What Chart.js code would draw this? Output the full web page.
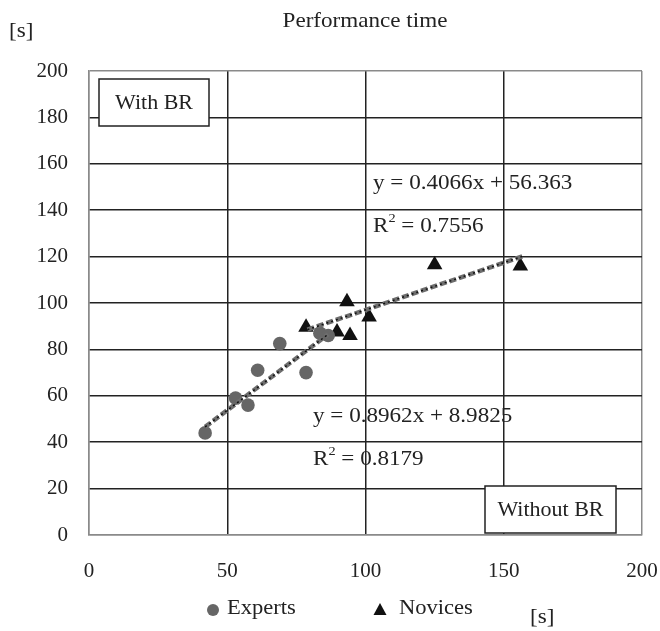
<!DOCTYPE html>
<html>
<head>
<meta charset="utf-8">
<script src="https://cdn.jsdelivr.net/npm/chart.js@4/dist/chart.umd.min.js"></script>
<style>
  html, body { margin: 0; padding: 0; background: #fff; }
  #wrap { width: 660px; height: 631px; }
</style>
</head>
<body>
<div id="wrap"><canvas id="myChart"></canvas></div>
<script>
// values
const expertsX = [42, 53, 57.5, 61, 69, 78.5, 83.5, 86.5]
const expertsY = [44, 59, 56, 71, 82.5, 70, 87, 86]
const novicesX = [78.5, 89.7, 93.3, 94.4, 101.3, 125, 156]
const novicesY = [89.5, 87.5, 100.5, 86, 94, 116.5, 116]
// trend line end points (as drawn in the figure)
const expertsTrend = [[42, 46.6], [86.5, 86.5]]
const novicesTrend = [[79, 88.5], [157, 120.2]]
const xTicks = [0, 50, 100, 150, 200]
const yTicks = [0, 20, 40, 60, 80, 100, 120, 140, 160, 180, 200]

const SERIF = '"Liberation Serif", "DejaVu Serif", serif'
const STRETCH = 1.1 // the figure's lettering is a bit wide

const toPoints = (xs, ys) => xs.map((x, i) => ({ x: x, y: ys[i] }))
const trendPoints = arr => arr.map(p => ({ x: p[0], y: p[1] }))

const gridColor = ctx => {
  const v = ctx.tick && ctx.tick.value
  return (v === 0 || v === 200) ? '#8a8a8a' : '#222'
}

const trendSet = (pts, dash, color, width, order) => ({
  type: 'line',
  data: trendPoints(pts),
  borderColor: color,
  borderWidth: width,
  borderDash: dash,
  pointRadius: 0,
  fill: false,
  tension: 0,
  order: order
})

// texts, boxes and legend
const annotations = {
  id: 'annotations',
  afterDraw(chart) {
    const { ctx, chartArea: a } = chart
    // draws wide text, returns its width
    const text = (str, x, y, size, align) => {
      ctx.save()
      ctx.font = size + 'px ' + SERIF
      ctx.textBaseline = 'middle'
      ctx.fillStyle = '#222'
      const w = ctx.measureText(str).width * STRETCH
      let x0 = x
      if (align === 'center') x0 = x - w / 2
      if (align === 'right') x0 = x - w
      ctx.translate(x0, y)
      ctx.scale(STRETCH, 1)
      ctx.textAlign = 'left'
      ctx.fillText(str, 0, 0)
      ctx.restore()
      return w
    }
    ctx.save()

    text('Performance time', 365, 21, 21, 'center')
    text('[s]', 9, 31, 21)
    text('[s]', 530, 617, 21)

    text('y = 0.4066x + 56.363', 373, 183, 21)
    text('y = 0.8962x + 8.9825', 313, 416, 21)
    const r2 = (x, y, val) => {
      let w = text('R', x, y, 21)
      w += text('2', x + w, y - 7, 13)
      text(' = ' + val, x + w, y, 21)
    }
    r2(373, 226, '0.7556')
    r2(313, 459, '0.8179')

    const box = (x, y, w, h, label) => {
      ctx.fillStyle = '#fff'
      ctx.fillRect(x, y, w, h)
      ctx.strokeStyle = '#222'
      ctx.lineWidth = 1.5
      ctx.strokeRect(x, y, w, h)
      text(label, x + w / 2, y + h / 2 + 1, 20, 'center')
    }
    box(a.left + 10, a.top + 8, 110, 47, 'With BR')
    box(a.right - 157, a.bottom - 49, 131, 47, 'Without BR')

    // legend
    ctx.fillStyle = '#666'
    ctx.beginPath()
    ctx.arc(213, 610, 6, 0, Math.PI * 2)
    ctx.fill()
    ctx.fillStyle = '#111'
    ctx.beginPath()
    ctx.moveTo(380, 603)
    ctx.lineTo(386.5, 615)
    ctx.lineTo(373.5, 615)
    ctx.closePath()
    ctx.fill()
    text('Experts', 227, 609, 20.5)
    text('Novices', 399, 609, 20.5)
    ctx.restore()
  }
}

const canvas = document.querySelector('#myChart')
const myChart = new Chart(canvas.getContext('2d'), {
  type: 'scatter',
  data: {
    datasets: [
      {
        label: 'Experts',
        data: toPoints(expertsX, expertsY),
        pointStyle: 'circle',
        pointRadius: 6.8,
        backgroundColor: '#666',
        borderColor: '#666',
        borderWidth: 0,
        order: 3
      },
      {
        label: 'Novices',
        data: toPoints(novicesX, novicesY),
        pointStyle: 'triangle',
        pointRadius: 9,
        backgroundColor: '#111',
        borderColor: '#111',
        borderWidth: 0,
        order: 3
      },
      trendSet(expertsTrend, [7, 3], '#6e6e6e', 4.5, 2),
      trendSet(novicesTrend, [7, 3], '#6e6e6e', 4.5, 2),
      trendSet(expertsTrend, [2, 3], '#111', 1.5, 1),
      trendSet(novicesTrend, [2, 3], '#111', 1.5, 1)
    ]
  },
  options: {
    responsive: true,
    maintainAspectRatio: false,
    animation: false,
    layout: { padding: { top: 71, right: 18, left: 0, bottom: 0 } },
    plugins: {
      legend: { display: false },
      title: { display: false },
      tooltip: { enabled: false }
    },
    scales: {
      x: {
        type: 'linear',
        min: 0,
        max: 200,
        afterBuildTicks: s => { s.ticks = xTicks.map(v => ({ value: v })) },
        afterFit: s => { s.height = 96; s.paddingLeft = 0; s.paddingRight = 0 },
        grid: { color: gridColor, lineWidth: 1.5, drawTicks: false },
        border: { color: '#8a8a8a', width: 1.5 },
        ticks: { padding: 24, color: '#222', font: { family: SERIF, size: 21 } }
      },
      y: {
        type: 'linear',
        min: 0,
        max: 200,
        afterBuildTicks: s => { s.ticks = yTicks.map(v => ({ value: v })) },
        afterFit: s => { s.width = 89; s.paddingTop = 0; s.paddingBottom = 0 },
        grid: { color: gridColor, lineWidth: 1.5, drawTicks: false },
        border: { color: '#8a8a8a', width: 1.5 },
        ticks: { padding: 21, color: '#222', font: { family: SERIF, size: 21 } }
      }
    }
  },
  plugins: [annotations]
})
</script>
</body>
</html>
